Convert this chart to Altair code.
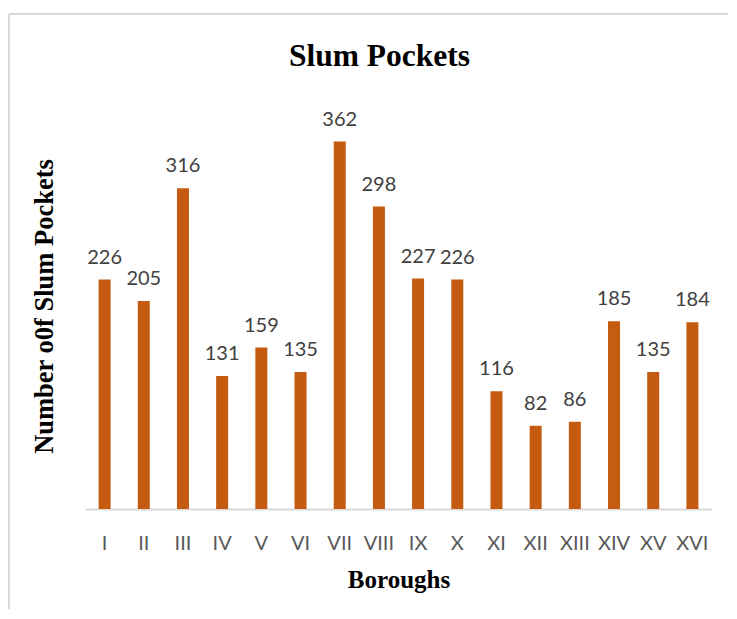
import altair as alt
import pandas as pd

boroughs = ["I", "II", "III", "IV", "V", "VI", "VII", "VIII", "IX", "X",
            "XI", "XII", "XIII", "XIV", "XV", "XVI"]
pockets = [226, 205, 316, 131, 159, 135, 362, 298, 227, 226,
           116, 82, 86, 185, 135, 184]

df = pd.DataFrame({"Borough": boroughs, "Pockets": pockets})
frame_df = pd.DataFrame({"k": [0]})

x = alt.X("Borough:N", sort=boroughs,
          scale=alt.Scale(paddingInner=0, paddingOuter=0),
          axis=alt.Axis(title="Boroughs", labelAngle=0, ticks=False,
                        domainColor="#D9D9D9", domainWidth=2,
                        labelFont="Lato", labelFontSize=20, labelColor="#595959",
                        labelPadding=24,
                        titleFont="Liberation Serif", titleFontSize=25,
                        titleFontWeight="bold", titleColor="#000000",
                        titlePadding=14))
y = alt.Y("Pockets:Q", scale=alt.Scale(domain=[0, 400], nice=False),
          axis=alt.Axis(title="Number o0f Slum Pockets", labels=False, ticks=False,
                        domain=False, grid=False,
                        titleFont="Liberation Serif", titleFontSize=26.5,
                        titleFontWeight="bold", titleColor="#000000",
                        titlePadding=27))

bars = alt.Chart(df).mark_bar(size=12, color="#C55A11").encode(x=x, y=y)
labels = alt.Chart(df).mark_text(baseline="bottom", dy=-12, font="Lato",
                                 fontSize=20, color="#404040").encode(
    x=alt.X("Borough:N", sort=boroughs), y="Pockets:Q", text="Pockets:Q")

frame_top = alt.Chart(frame_df).mark_rule(color="#D9D9D9", strokeWidth=2).encode(
    x=alt.value(-76), x2=alt.value(660), y=alt.value(-89))
frame_left = alt.Chart(frame_df).mark_rule(color="#D9D9D9", strokeWidth=2).encode(
    x=alt.value(-76), y=alt.value(-89), y2=alt.value(520))

chart = (frame_top + frame_left + bars + labels).properties(
    width=627, height=406,
    title=alt.TitleParams("Slum Pockets", font="Liberation Serif", fontSize=31.5,
                          fontWeight="bold", color="#000000", offset=-59, dx=-19),
    autosize=alt.AutoSizeParams(type="none"),
    padding={"left": 77, "top": 95, "right": 16, "bottom": 100},
    background="white",
).configure_view(stroke=None)

chart.save("out.html", embed_options={"renderer": "svg", "actions": False})
